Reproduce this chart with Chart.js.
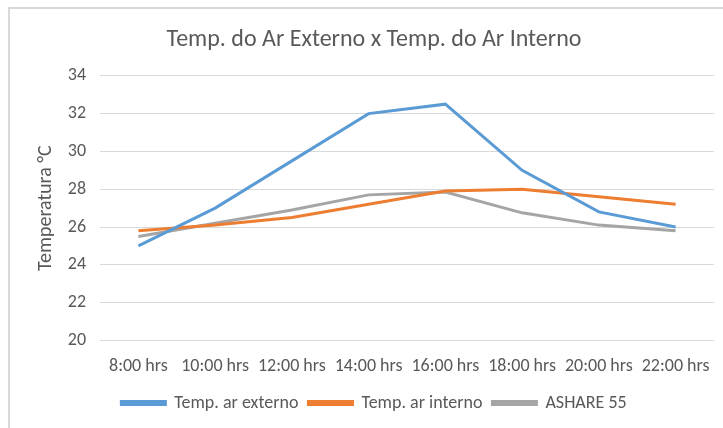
<!DOCTYPE html>
<html lang="pt">
<head>
  <meta charset="UTF-8" />
  <title>Temp. do Ar Externo x Temp. do Ar Interno</title>
  <script src="https://cdn.jsdelivr.net/npm/chart.js"></script>
  <style>
    body { margin: 0; background: #fff; }
    #frame { position: absolute; left: 8px; top: 7px; width: 760px; height: 460px;
             border-left: 2px solid #d9d9d9; border-top: 2px solid #d9d9d9; }
    #wrap { position: absolute; left: 0; top: 0; width: 723px; height: 428px; }
  </style>
</head>
<body>
  <div id="frame"></div>
  <div id="wrap"><canvas id="tempChart"></canvas></div>

  <script>
    const horarios = ["8:00 hrs","10:00 hrs","12:00 hrs","14:00 hrs","16:00 hrs","18:00 hrs","20:00 hrs","22:00 hrs"];
    const arExterno = [25, 27, 29.5, 32, 32.5, 29, 26.8, 26];
    const arInterno = [25.8, 26.1, 26.5, 27.2, 27.9, 28, 27.6, 27.2];
    const ashrae55 = [25.5, 26.2, 26.9, 27.7, 27.85, 26.75, 26.1, 25.8];

    const fonte = "Carlito, 'Liberation Sans Narrow', 'Open Sans', sans-serif";
    const cinza = "#595959";

    const ctx = document.getElementById("tempChart").getContext("2d");
    new Chart(ctx, {
      type: "line",
      data: {
        labels: horarios,
        datasets: [
          { label: "Temp. ar externo", data: arExterno, borderColor: "#5B9BD5", backgroundColor: "#5B9BD5" },
          { label: "Temp. ar interno", data: arInterno, borderColor: "#ED7D31", backgroundColor: "#ED7D31" },
          { label: "ASHARE 55", data: ashrae55, borderColor: "#A5A5A5", backgroundColor: "#A5A5A5" }
        ]
      },
      options: {
        responsive: true,
        maintainAspectRatio: false,
        animation: false,
        elements: {
          line: { borderWidth: 3, tension: 0 },
          point: { radius: 0 }
        },
        layout: { padding: { left: 34, right: 9, top: 0, bottom: 6 } },
        plugins: {
          title: {
            display: true,
            text: "Temp. do Ar Externo x Temp. do Ar Interno",
            color: cinza,
            font: { family: fonte, size: 24, weight: "normal" },
            padding: { top: 26, bottom: 21 }
          },
          legend: {
            position: "bottom",
            labels: {
              color: cinza,
              font: { family: fonte, size: 18 },
              boxWidth: 44,
              boxHeight: 3,
              padding: 10
            }
          },
          tooltip: { enabled: false }
        },
        scales: {
          x: {
            offset: true,
            grid: { display: false },
            border: { display: false },
            ticks: { color: cinza, font: { family: fonte, size: 18 }, padding: 7, maxRotation: 0 }
          },
          y: {
            min: 20,
            max: 34,
            ticks: { stepSize: 2, color: cinza, font: { family: fonte, size: 18 }, padding: 14 },
            grid: { color: "#d9d9d9", drawTicks: false },
            border: { display: false },
            title: { display: true, text: "Temperatura °C", color: cinza, font: { family: fonte, size: 20 }, padding: { top: 0, bottom: 0 } },
            afterFit: scale => { scale.width = 66; }
          }
        }
      }
    });
  </script>
</body>
</html>
